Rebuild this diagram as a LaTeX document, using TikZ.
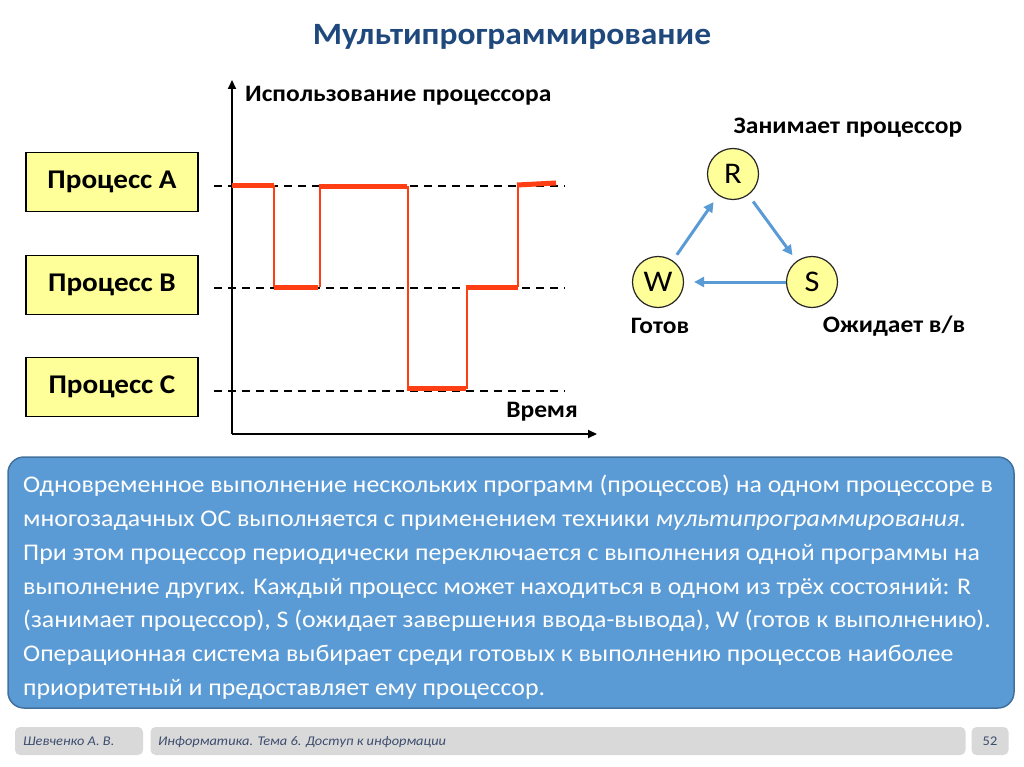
\documentclass[tikz,border=0pt]{standalone}
\usepackage{fontspec}
\setmainfont[FakeStretch=1.08]{Carlito}
\usetikzlibrary{arrows.meta}
\definecolor{titleblue}{RGB}{31,73,125}
\definecolor{procyellow}{RGB}{255,255,153}
\definecolor{redline}{RGB}{255,62,20}
\definecolor{arrowblue}{RGB}{91,155,213}
\definecolor{panelblue}{RGB}{91,155,213}
\definecolor{panelborder}{RGB}{65,113,156}
\definecolor{footgray}{RGB}{217,217,217}
\definecolor{foottext}{RGB}{60,76,110}
\tikzset{
  procbox/.style={draw=black, line width=1.5pt, fill=procyellow, minimum width=172pt, minimum height=59pt, font=\fontsize{27}{30}\selectfont\bfseries},
  statecirc/.style={circle, draw=black!85, line width=1.2pt, fill=procyellow, minimum size=51pt, inner sep=0pt, font=\fontsize{30}{32}\selectfont},
  lbl/.style={font=\fontsize{23.6}{26}\selectfont\bfseries, inner sep=0pt},
  axisline/.style={line width=2pt, -{Triangle[length=9pt,width=8pt]}},
  dashline/.style={line width=1.5pt, dash pattern=on 8pt off 6pt},
  thickseg/.style={redline, line width=5pt},
  thinseg/.style={redline, line width=2pt},
  statearrow/.style={arrowblue, line width=3pt, -{Triangle[length=10pt,width=10pt]}},
  footbox/.style={fill=footgray, rounded corners=5pt, inner sep=0pt, minimum height=28pt},
  foottxt/.style={font=\fontsize{13.3}{15}\selectfont\itshape, text=foottext, inner sep=0pt}
}
\begin{document}
\begin{tikzpicture}[x=1pt,y=-1pt]
\useasboundingbox (0,0) rectangle (1024,767);
\fill[white] (0,0) rectangle (1024,767);

% title
\node[font=\fontsize{31}{34}\selectfont\bfseries, text=titleblue] (title) at (512,37) {Мультипрограммирование};

% process boxes
\node[procbox] (pA) at (112,182) {Процесс A};
\node[procbox] (pB) at (112,285) {Процесс B};
\node[procbox] (pC) at (112,387) {Процесс C};

% dashed levels
\coordinate (dA0) at (214,186); \coordinate (dA1) at (565,186);
\coordinate (dB0) at (214,288); \coordinate (dB1) at (565,288);
\coordinate (dC0) at (214,391); \coordinate (dC1) at (565,391);
\draw[dashline] (dA0) -- (dA1);
\draw[dashline] (dB0) -- (dB1);
\draw[dashline] (dC0) -- (dC1);

% axes
\coordinate (origin) at (232,434);
\coordinate (ytop) at (232,80);
\coordinate (xend) at (597,434);
\draw[axisline] (origin) -- (ytop);
\draw[axisline] (origin) -- (xend);
\node[lbl, anchor=west] (ylab) at (245,96) {Использование процессора};
\node[lbl, anchor=east] (xlab) at (578,412) {Время};

% CPU usage trace
\draw[thickseg] (232,185.5) -- (274,185.5);
\draw[thinseg] (274,185.5) -- (274,287);
\draw[thickseg] (274,287) -- (318,287);
\draw[thinseg] (319.5,287) -- (319.5,186);
\draw[thickseg] (319,186.5) -- (407,186.5);
\draw[thinseg] (408,186) -- (408,388);
\draw[thickseg] (407,388.5) -- (466,388.5);
\draw[thinseg] (466.5,388.5) -- (466.5,287);
\draw[thickseg] (466,287) -- (518,287);
\draw[thinseg] (518,287) -- (518,185);
\draw[thickseg] (517,185) -- (556,183);

% state diagram
\node[statecirc] (R) at (733,174) {R};
\node[statecirc] (W) at (658,282) {W};
\node[statecirc] (S) at (812,282) {S};
\draw[statearrow, shorten <=7pt, shorten >=8pt] (W) -- (R);
\draw[statearrow, shorten <=8pt, shorten >=7pt] (R) -- (S);
\draw[statearrow, shorten <=0pt, shorten >=10pt] (S) -- (W);
\node[lbl] (lR) at (848,128) {Занимает процессор};
\node[lbl] (lW) at (660,326) {Готов};
\node[lbl] (lS) at (894,326) {Ожидает в/в};

% text panel
\draw[fill=panelblue, draw=panelborder, line width=1.5pt, rounded corners=16pt] (8,457) rectangle (1014,708);
\node[anchor=north west, inner sep=0pt, text=white, align=left,
      font=\fontsize{23.9}{33.8}\selectfont] (body) at (23,475) {%
Одновременное выполнение нескольких программ (процессов) на одном процессоре в\\
многозадачных ОС выполняется с применением техники \textit{мультипрограммирования}.\\
При этом процессор периодически переключается с выполнения одной программы на\\
выполнение других. Каждый процесс может находиться в одном из трёх состояний: R\\
(занимает процессор), S (ожидает завершения ввода-вывода), W (готов к выполнению).\\
Операционная система выбирает среди готовых к выполнению процессов наиболее\\
приоритетный и предоставляет ему процессор.};

% footer
\node[footbox, minimum width=128pt] (f1) at (79,741) {};
\node[footbox, minimum width=815pt] (f2) at (558,741) {};
\node[footbox, minimum width=37pt] (f3) at (990,741) {};
\node[foottxt, anchor=base west] (f1t) at (23,745.5) {Шевченко А. В.};
\node[foottxt, anchor=base west] (f2t) at (158,745.5) {Информатика. Тема 6. Доступ к информации};
\node[foottxt, font=\fontsize{13.3}{15}\selectfont, anchor=base] (f3t) at (990,745.5) {52};
\end{tikzpicture}
\end{document}
